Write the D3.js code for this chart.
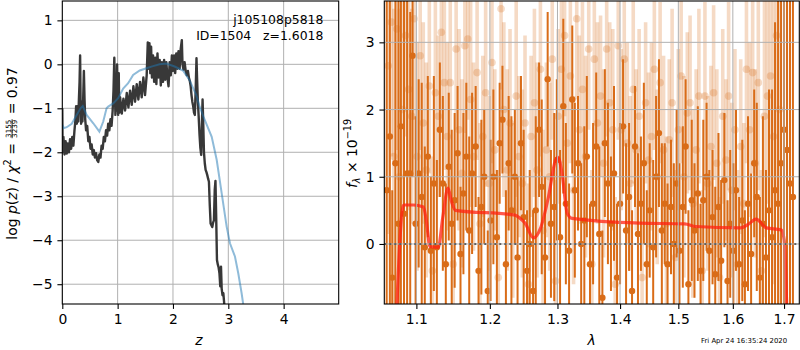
<!DOCTYPE html>
<html>
<head>
<meta charset="utf-8">
<script src="https://cdn.jsdelivr.net/npm/d3@7"></script>
<style>
body { margin: 0; background: #fff; }
svg { font-family: "DejaVu Sans", sans-serif; }
.axis text { font-size: 13.9px; fill: #000; }
.axis line { stroke: #000; stroke-width: 1.1; }
.grid { stroke: #b0b0b0; stroke-width: 1; }
</style>
</head>
<body>
<svg id="main"></svg>
<script>
// left panel: p(z)
const zTicks = [0, 1, 2, 3, 4]
const pzTicks = [1, 0, -1, -2, -3, -4, -5]

// black: log p(z) [z, value]
const pzFit = [
  [0.000,-1.00],[0.006,-2.00],[0.02,-1.65],[0.04,-2.05],[0.06,-1.75],[0.08,-2.03],[0.10,-1.80],[0.12,-2.00],
  [0.14,-1.70],[0.16,-1.92],[0.18,-1.65],[0.20,-1.85],[0.22,-1.50],
  [0.235,-1.30],[0.25,-0.95],[0.262,-1.35],[0.275,-0.95],[0.288,-1.30],[0.300,-0.80],[0.312,-0.40],[0.322,0.20],
  [0.330,-0.80],[0.340,-1.35],[0.352,-0.85],[0.364,-1.30],[0.376,-0.85],[0.390,-0.15],[0.402,-0.80],[0.414,-1.25],
  [0.43,-1.50],[0.45,-1.40],[0.47,-1.75],[0.49,-1.65],[0.51,-1.92],[0.53,-1.82],[0.55,-2.05],[0.57,-1.95],
  [0.59,-2.12],[0.61,-2.02],[0.63,-2.18],[0.65,-2.22],
  [0.67,-2.05],[0.69,-2.12],[0.71,-1.85],[0.73,-1.92],[0.75,-1.65],[0.77,-1.75],[0.79,-1.50],[0.81,-1.62],
  [0.83,-1.35],[0.85,-1.50],[0.87,-1.25],[0.89,-1.40],[0.91,-1.05],
  [0.925,-0.60],[0.940,0.15],[0.950,-0.60],[0.960,-1.15],[0.970,-0.35],[0.980,-1.05],[0.990,0.00],[1.000,-0.90],
  [1.010,-1.15],[1.020,-0.20],[1.030,-1.10],
  [1.045,-0.75],[1.075,-1.12],[1.105,-0.78],[1.135,-1.05],[1.165,-0.65],[1.195,-0.98],[1.225,-0.60],[1.255,-0.92],
  [1.285,-0.50],[1.315,-0.85],[1.345,-0.45],[1.375,-0.80],[1.405,-0.40],[1.435,-0.75],[1.465,-0.30],[1.495,-0.70],
  [1.525,-0.25],
  [1.545,0.50],[1.560,-0.10],[1.575,0.48],[1.590,-0.20],[1.605,0.40],[1.620,-0.30],[1.640,0.20],[1.660,-0.40],
  [1.680,0.15],[1.700,-0.45],[1.720,0.25],[1.740,-0.30],[1.760,0.10],[1.780,-0.48],[1.800,0.05],[1.820,-0.40],
  [1.840,0.10],[1.860,-0.35],[1.880,0.05],[1.900,-0.30],[1.920,-0.50],[1.940,0.05],[1.960,-0.25],[1.980,0.20],
  [2.000,-0.15],[2.020,0.20],[2.040,-0.20],[2.060,0.25],[2.080,-0.10],[2.100,0.30],[2.120,-0.10],[2.140,0.35],
  [2.160,0.55],[2.172,0.00],
  [2.190,-0.12],[2.210,0.05],[2.230,-0.15],[2.250,-0.25],[2.270,-0.15],[2.290,-0.32],[2.305,-0.38],[2.320,-0.50],
  [2.335,-0.70],[2.350,-0.85],[2.365,-0.95],[2.380,-1.10],[2.395,-1.15],[2.410,-0.60],[2.425,0.14],[2.435,-0.30],
  [2.450,-0.85],[2.465,-1.20],[2.480,-1.60],[2.495,-1.90],[2.510,-2.06],[2.522,-1.40],[2.535,-0.80],[2.548,-1.40],
  [2.560,-2.00],[2.575,-2.25],[2.590,-2.40],[2.605,-2.45],[2.620,-2.52],[2.635,-2.60],[2.650,-2.67],[2.665,-3.20],
  [2.680,-3.62],[2.695,-3.66],[2.710,-3.70],[2.725,-3.60],[2.740,-3.55],[2.755,-2.85],[2.768,-2.65],[2.780,-3.40],
  [2.795,-4.45],[2.810,-4.55],[2.825,-4.62],[2.840,-4.75],[2.855,-5.05],[2.868,-4.60],[2.880,-5.10],[2.895,-5.25],
  [2.910,-5.20],[2.930,-5.50]
]

// blue: prior / smooth p(z) [z, value]
const pzPrior = [
  [0.00,-1.38],[0.03,-1.45],[0.08,-1.43],[0.17,-1.35],[0.26,-1.15],[0.33,-1.00],[0.37,-0.95],[0.44,-1.15],
  [0.56,-1.34],[0.67,-1.53],[0.74,-1.30],[0.80,-1.00],[0.83,-0.96],[0.92,-0.89],[1.01,-0.77],[1.10,-0.55],
  [1.19,-0.43],[1.28,-0.24],[1.40,-0.14],[1.52,-0.09],[1.64,-0.04],[1.76,0.00],[1.88,0.02],[2.03,-0.05],
  [2.18,-0.14],[2.30,-0.36],[2.42,-0.70],[2.48,-0.95],[2.55,-1.19],[2.70,-1.65],[2.79,-2.17],[2.88,-2.93],
  [2.97,-3.69],[3.03,-4.07],[3.12,-4.37],[3.18,-4.75],[3.24,-5.20],[3.27,-5.46]
]

// right panel: spectrum
const lamTicks = [1.1, 1.2, 1.3, 1.4, 1.5, 1.6, 1.7]
const fluxTicks = [0, 1, 2, 3]

// dark spectrum [lambda, flux, err]
const specDark = [
  [1.062,0.8,5],[1.066,1.6,5],[1.069,-0.5,1.3],[1.073,1.2,5],[1.077,0.3,4.5],[1.080,1.75,3.5],[1.084,0.45,4],
  [1.088,1.05,3.2],[1.092,1.05,2.4],[1.095,2.8,1.8],[1.099,0.3,1.6],[1.103,1.05,1.4],[1.107,0.7,1.7],[1.111,-0.05,1.5],
  [1.115,1.3,1.2],[1.119,-0.1,1.1],[1.123,0.9,1.6],[1.127,-0.05,1.3],[1.131,1.7,1.0],[1.135,0.9,1.3],[1.139,-0.3,1.2],
  [1.143,1.15,1.1],[1.147,0.3,1.4],[1.151,0.65,1.3],[1.155,1.35,1.0],[1.159,-0.15,1.0],[1.163,0.75,1.2],[1.167,1.3,1.1],
  [1.171,0.2,1.4],[1.175,1.05,1.2],[1.180,1.45,0.9],[1.184,-0.4,1.1],[1.188,0.55,1.3],[1.192,1.0,1.0],[1.197,-0.7,0.9],
  [1.201,0.35,1.2],[1.205,1.0,1.3],[1.210,0.1,1.0],[1.214,1.5,0.9],[1.218,1.85,0.8],[1.223,-0.3,1.1],[1.227,1.2,1.0],
  [1.231,0.5,1.4],[1.236,1.0,1.0],[1.240,-0.2,1.2],[1.245,1.5,1.0],[1.249,0.4,1.3],[1.254,-0.4,0.9],[1.258,0.0,1.1],
  [1.263,-0.7,1.2],[1.267,0.5,1.4],[1.272,1.7,1.0],[1.276,0.85,1.3],[1.281,-0.2,1.2],[1.285,2.45,1.0],[1.290,0.3,1.1],
  [1.295,0.55,1.4],[1.299,1.25,1.2],[1.304,0.1,1.3],[1.309,2.05,1.3],[1.313,0.6,1.2],[1.318,-0.1,1.0],[1.323,2.15,1.1],
  [1.327,0.8,1.3],[1.332,1.2,1.0],[1.337,0.0,1.2],[1.342,0.35,1.4],[1.346,1.3,1.2],[1.351,-0.3,0.9],[1.356,0.6,1.2],
  [1.361,1.45,1.1],[1.366,0.15,1.3],[1.371,-0.8,1.0],[1.375,1.5,1.1],[1.380,0.9,1.2],[1.385,0.3,1.0],[1.390,1.05,1.3],
  [1.395,-0.5,1.1],[1.400,0.6,1.2],[1.405,1.75,1.0],[1.410,0.2,1.3],[1.415,0.7,1.1],[1.420,-0.7,1.2],[1.425,1.45,0.9],
  [1.430,0.15,1.2],[1.435,0.6,1.0],[1.440,1.2,1.2],[1.445,-0.3,1.1],[1.450,0.5,1.0],[1.456,-0.05,1.3],[1.461,1.0,1.2],
  [1.466,1.65,1.1],[1.471,0.2,1.3],[1.476,0.6,0.9],[1.481,-0.3,1.2],[1.487,0.55,1.0],[1.492,0.0,1.2],[1.497,0.9,1.1],
  [1.502,-0.1,1.3],[1.508,0.55,1.2],[1.513,1.45,1.0],[1.518,-0.6,1.1],[1.524,0.65,1.2],[1.529,0.2,1.0],[1.535,0.75,1.3],
  [1.540,-0.4,1.0],[1.545,0.65,1.2],[1.551,1.0,1.1],[1.556,-0.1,1.2],[1.562,0.4,1.0],[1.567,-0.45,1.3],[1.573,0.55,1.1],
  [1.578,-0.25,1.2],[1.584,0.95,1.0],[1.590,-0.55,1.2],[1.595,0.3,1.1],[1.601,-0.1,1.3],[1.606,0.8,1.2],[1.612,-0.3,1.0],
  [1.618,0.35,1.2],[1.623,-0.6,1.1],[1.629,0.6,1.3],[1.635,-0.15,1.2],[1.641,1.2,1.1],[1.646,0.7,1.4],[1.652,-0.5,1.2],
  [1.658,0.3,1.6],[1.664,-0.2,1.3],[1.670,0.5,1.8],[1.676,0.1,2.2],[1.682,0.8,2.5],[1.688,0.6,3.5],[1.694,1.2,4],
  [1.700,1.7,5],[1.706,1.4,5],[1.712,0.9,5],[1.718,0.7,5]
]

// light spectrum [lambda, flux, err]
const specLight = [
  [1.064,2.65,2.5],[1.068,3.3,2.0],[1.071,1.3,2.2],[1.075,3.2,1.8],[1.078,1.0,2.5],[1.082,2.0,2.0],[1.086,3.1,1.5],
  [1.090,2.3,1.8],[1.094,1.9,1.6],[1.097,3.35,1.5],[1.101,1.3,1.7],[1.105,2.8,1.4],[1.109,1.8,1.5],[1.113,1.1,1.6],
  [1.117,2.35,1.3],[1.121,-0.4,1.7],[1.125,2.25,1.4],[1.129,1.9,1.2],[1.133,3.15,1.5],[1.137,2.4,1.3],[1.141,1.6,1.4],
  [1.145,2.4,1.6],[1.149,-0.3,1.3],[1.153,2.9,1.2],[1.157,1.7,1.5],[1.161,1.05,1.4],[1.165,2.95,1.3],[1.169,3.05,1.2],
  [1.173,2.15,1.6],[1.177,1.3,1.4],[1.182,2.55,1.3],[1.186,0.3,1.5],[1.190,1.6,1.2],[1.194,2.25,1.4],[1.199,0.9,1.3],
  [1.203,2.7,1.5],[1.207,1.4,1.2],[1.212,-0.5,1.6],[1.216,3.5,1.2],[1.220,2.0,1.3],[1.225,1.1,1.5],[1.229,1.8,1.4],
  [1.233,0.5,1.3],[1.238,2.2,1.5],[1.242,1.3,1.2],[1.247,0.9,1.4],[1.251,1.8,1.3],[1.256,-0.6,1.5],[1.260,1.6,1.2],
  [1.265,2.1,1.4],[1.269,1.1,1.6],[1.274,2.6,1.3],[1.278,0.2,1.5],[1.283,1.4,1.3],[1.288,1.0,1.4],[1.292,2.75,1.2],
  [1.297,-0.55,1.5],[1.301,1.9,1.3],[1.306,2.6,1.4],[1.311,3.1,1.2],[1.315,1.5,1.5],[1.320,2.5,1.3],[1.325,0.8,1.4],
  [1.330,3.35,1.2],[1.334,1.7,1.4],[1.339,2.3,1.3],[1.344,1.3,1.5],[1.349,2.9,1.2],[1.354,-0.3,1.4],[1.358,2.75,1.3],
  [1.363,1.8,1.5],[1.368,2.2,1.2],[1.373,1.2,1.4],[1.378,2.9,1.3],[1.383,2.1,1.2],[1.388,1.7,1.5],[1.392,-0.6,1.3],
  [1.397,2.95,1.4],[1.402,1.7,1.2],[1.407,2.75,1.3],[1.412,1.5,1.5],[1.417,0.9,1.3],[1.422,2.3,1.4],[1.427,1.4,1.2],
  [1.432,1.9,1.3],[1.437,-0.5,1.5],[1.443,2.1,1.2],[1.448,1.25,1.3],[1.453,1.6,1.4],[1.458,2.6,1.2],[1.463,1.0,1.3],
  [1.468,2.4,1.2],[1.474,1.4,1.4],[1.479,0.3,1.3],[1.484,1.55,1.2],[1.489,2.1,1.4],[1.495,-0.2,1.3],[1.500,1.7,1.2],
  [1.505,2.5,1.3],[1.510,1.0,1.5],[1.516,1.95,1.2],[1.521,2.1,1.3],[1.526,0.6,1.4],[1.532,1.4,1.2],[1.537,2.2,1.3],
  [1.543,-0.4,1.2],[1.548,2.2,1.4],[1.553,0.9,1.3],[1.559,1.45,1.2],[1.564,2.25,1.3],[1.570,1.2,1.4],[1.575,-0.5,1.2],
  [1.581,1.9,1.3],[1.587,1.25,1.2],[1.592,2.2,1.4],[1.598,0.8,1.3],[1.604,1.7,1.2],[1.609,-0.3,1.4],[1.615,1.45,1.3],
  [1.621,0.6,1.2],[1.626,2.6,1.4],[1.632,1.7,1.3],[1.638,2.55,1.5],[1.643,1.2,1.4],[1.649,2.4,1.6],[1.655,-0.4,1.5],
  [1.661,1.9,1.8],[1.667,2.2,1.6],[1.673,2.5,2.0],[1.679,1.6,2.2],[1.685,3.1,2.5],[1.691,2.0,3.0]
]

// red: model spectrum [lambda, flux]
const specModel = [
  [1.0748,-0.95],[1.0790,0.10],[1.0832,0.58],[1.0960,0.58],[1.1092,0.55],[1.1130,0.35],[1.1179,-0.04],[1.1289,-0.05],
  [1.1350,0.40],[1.1419,0.83],[1.1470,0.62],[1.1521,0.50],[1.2363,0.43],[1.2440,0.38],[1.2512,0.31],[1.2636,0.09],
  [1.2736,0.22],[1.2864,0.71],[1.2968,1.24],[1.3009,1.29],[1.3071,1.05],[1.3150,0.46],[1.3228,0.38],[1.4324,0.31],
  [1.5113,0.30],[1.5314,0.26],[1.6146,0.24],[1.6289,0.29],[1.6447,0.37],[1.6649,0.24],[1.6944,0.21],[1.7003,0.06],
  [1.7055,-0.95]
]

const orange = '#d96c18'

let svg = d3.select('#main').attr('width', 800).attr('height', 350)

let zScale = d3.scaleLinear().domain([0, 4.995]).range([62.3, 338.7])
let pzScale = d3.scaleLinear().domain([-5.45, 1.44]).range([304, 1])
let lamScale = d3.scaleLog().domain([1.059, 1.731]).range([384.3, 799.3])
let fluxScale = d3.scaleLinear().domain([-0.893, 3.615]).range([304, 1])

const defs = svg.append('defs')
const addClip = (id, xs, ys) => {
  defs.append('clipPath').attr('id', id).append('rect')
    .attr('x', xs.range()[0]).attr('y', ys.range()[1])
    .attr('width', xs.range()[1] - xs.range()[0]).attr('height', ys.range()[0] - ys.range()[1])
}
addClip('clipL', zScale, pzScale)
addClip('clipR', lamScale, fluxScale)

const drawGrid = (g, xs, ys, xt, yt) => {
  g.selectAll('.gx').data(xt).enter().append('line').attr('class', 'grid')
    .attr('x1', d => xs(d)).attr('x2', d => xs(d))
    .attr('y1', ys.range()[0]).attr('y2', ys.range()[1])
  g.selectAll('.gy').data(yt).enter().append('line').attr('class', 'grid')
    .attr('x1', xs.range()[0]).attr('x2', xs.range()[1])
    .attr('y1', d => ys(d)).attr('y2', d => ys(d))
}

const drawAxes = (xs, ys, xt, yt, xfmt, yfmt) => {
  let xAxis = d3.axisBottom(xs).tickValues(xt).tickFormat(xfmt).tickSize(4.9).tickPadding(4.9)
  svg.append('g').attr('class', 'axis')
    .attr('transform', `translate(0, ${ys.range()[0]})`)
    .call(xAxis)
    .call(g => g.select('.domain').remove())
  let yAxis = d3.axisLeft(ys).tickValues(yt).tickFormat(yfmt).tickSize(4.9).tickPadding(4.9)
  svg.append('g').attr('class', 'axis')
    .attr('transform', `translate(${xs.range()[0]}, 0)`)
    .call(yAxis)
    .call(g => g.select('.domain').remove())
  svg.selectAll('.axis').attr('font-family', '"DejaVu Sans", sans-serif').attr('font-size', null)
  svg.append('rect')
    .attr('x', xs.range()[0]).attr('y', ys.range()[1])
    .attr('width', xs.range()[1] - xs.range()[0]).attr('height', ys.range()[0] - ys.range()[1])
    .attr('fill', 'none').attr('stroke', '#000').attr('stroke-width', 1.1)
}

// ---- left panel ----
const plotLeft = () => {
  let g = svg.append('g').attr('clip-path', 'url(#clipL)')
  drawGrid(g, zScale, pzScale, zTicks, pzTicks)
  let line = d3.line().x(d => zScale(d[0])).y(d => pzScale(d[1]))
  g.append('path').datum(pzFit).attr('d', line)
    .attr('fill', 'none').attr('stroke', '#383838').attr('stroke-width', 2.4).attr('stroke-linejoin', 'round')
  g.append('path').datum(pzPrior).attr('d', line)
    .attr('fill', 'none').attr('stroke', 'rgb(31,119,180)').attr('stroke-opacity', 0.5).attr('stroke-width', 2)
  drawAxes(zScale, pzScale, zTicks, pzTicks, d3.format('d'), d3.format('d'))

  svg.append('text').attr('x', 323.3).attr('y', 24).attr('text-anchor', 'end')
    .style('font-size', '12.4px').text('j105108p5818')
  svg.append('text').attr('x', 323.3).attr('y', 39.5).attr('text-anchor', 'end')
    .style('font-size', '12.4px').style('white-space', 'pre').text('ID=1504   z=1.6018')
}

// ---- right panel ----
const plotRight = () => {
  let g = svg.append('g').attr('clip-path', 'url(#clipR)')
  g.selectAll('.lbar').data(specLight).enter().append('line')
    .attr('x1', d => lamScale(d[0])).attr('x2', d => lamScale(d[0]))
    .attr('y1', d => fluxScale(d[1] - d[2])).attr('y2', d => fluxScale(d[1] + d[2]))
    .attr('stroke', orange).attr('stroke-opacity', 0.25).attr('stroke-width', 3.6)
  g.selectAll('.ldot').data(specLight).enter().append('circle')
    .attr('cx', d => lamScale(d[0])).attr('cy', d => fluxScale(d[1])).attr('r', 3.8)
    .attr('fill', orange).attr('fill-opacity', 0.25)
  g.selectAll('.dbar').data(specDark).enter().append('line')
    .attr('x1', d => lamScale(d[0])).attr('x2', d => lamScale(d[0]))
    .attr('y1', d => fluxScale(d[1] - d[2])).attr('y2', d => fluxScale(d[1] + d[2]))
    .attr('stroke', orange).attr('stroke-width', 2)
  g.selectAll('.ddot').data(specDark).enter().append('circle')
    .attr('cx', d => lamScale(d[0])).attr('cy', d => fluxScale(d[1])).attr('r', 3.2)
    .attr('fill', orange)
  g.append('path').datum(specModel)
    .attr('d', d3.line().x(d => lamScale(d[0])).y(d => fluxScale(d[1])).curve(d3.curveMonotoneX))
    .attr('fill', 'none').attr('stroke', '#ff2010').attr('stroke-opacity', 0.75).attr('stroke-width', 3.2)
  g.append('line')
    .attr('x1', lamScale.range()[0]).attr('x2', lamScale.range()[1])
    .attr('y1', fluxScale(0)).attr('y2', fluxScale(0))
    .attr('stroke', '#111').attr('stroke-width', 2).attr('stroke-dasharray', '2,3')
  drawGrid(g, lamScale, fluxScale, lamTicks, fluxTicks)
  drawAxes(lamScale, fluxScale, lamTicks, fluxTicks, d3.format('.1f'), d3.format('d'))
}

// text runs helper for math-like labels
const addRuns = (g, x, runs) => {
  runs.forEach(r => {
    let t = g.append('text').attr('x', x).attr('y', r.dy || 0)
      .style('font-size', (r.size || 13.9) + 'px')
      .style('font-style', r.it ? 'italic' : 'normal')
      .style('white-space', 'pre')
      .text(r.t)
    x += t.node().getComputedTextLength()
  })
  return x
}

const drawLabels = () => {
  svg.append('text').attr('x', 199).attr('y', 345).attr('text-anchor', 'middle')
    .style('font-size', '13.9px').style('font-style', 'italic').text('z')
  svg.append('text').attr('x', 591.5).attr('y', 345).attr('text-anchor', 'middle')
    .style('font-size', '13.9px').style('font-style', 'italic').text('λ')

  // left y label
  let outer = svg.append('g').attr('transform', 'translate(16.7,153.5) rotate(-90)')
  let inner = outer.append('g')
  let x = addRuns(inner, 0, [
    { t: 'log ' }, { t: 'p', it: true }, { t: '(' }, { t: 'z', it: true }, { t: ') / ' },
    { t: 'χ', it: true }, { t: '2', size: 9.7, dy: -5.5 }, { t: ' = ' }
  ])
  let fw = 20
  inner.append('text').attr('x', x + fw / 2).attr('y', -6.2).attr('text-anchor', 'middle')
    .style('font-size', '7.2px').text('3155')
  inner.append('line').attr('x1', x + 0.5).attr('x2', x + fw - 0.5).attr('y1', -4.6).attr('y2', -4.6)
    .attr('stroke', '#000').attr('stroke-width', 0.8)
  inner.append('text').attr('x', x + fw / 2).attr('y', 0.5).attr('text-anchor', 'middle')
    .style('font-size', '7.2px').text('3239')
  x = addRuns(inner, x + fw, [{ t: ' = 0.97' }])
  inner.attr('transform', `translate(${-x / 2},0)`)

  // right y label
  let outerR = svg.append('g').attr('transform', 'translate(356.7,153.5) rotate(-90)')
  let innerR = outerR.append('g')
  let xr = addRuns(innerR, 0, [
    { t: 'f', it: true }, { t: 'λ', it: true, size: 9.7, dy: 2.8 }, { t: ' × 10' }, { t: '−19', size: 9.7, dy: -5.5 }
  ])
  innerR.attr('transform', `translate(${-xr / 2},0)`)

  svg.append('text').attr('x', 701).attr('y', 342.5)
    .style('font-size', '6.9px').text('Fri Apr 24 16:35:24 2020')
}

plotLeft()
plotRight()
drawLabels()
</script>
</body>
</html>
